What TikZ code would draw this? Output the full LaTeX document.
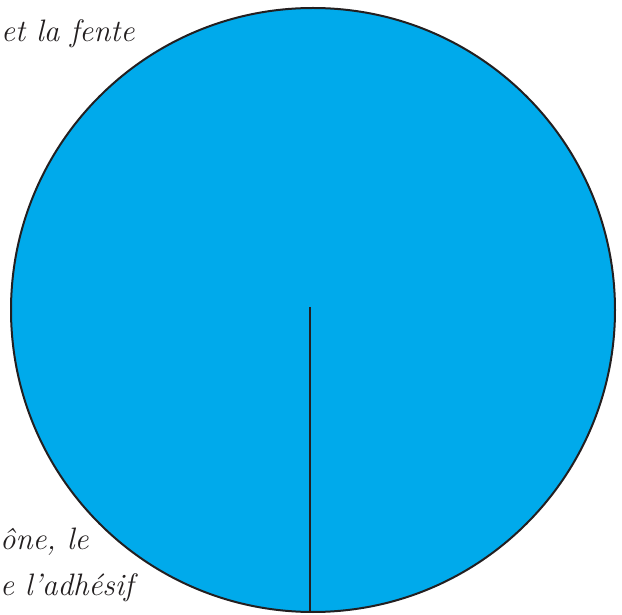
\documentclass[tikz,border=0pt]{standalone}
\usepackage{tikz}
\usetikzlibrary{positioning}
\definecolor{disccyan}{RGB}{0,170,235}
\definecolor{inkgrey}{RGB}{35,31,32}

\begin{document}
\begin{tikzpicture}[
  x=1pt, y=1pt,
  disc/.style={circle, draw=inkgrey, line width=2pt, fill=disccyan, minimum size=604pt, inner sep=0pt},
  cut/.style={draw=inkgrey, line width=2.4pt},
  hand/.style={font=\fontsize{31}{34}\selectfont\itshape, text=inkgrey, inner sep=0pt, anchor=base west},
]
  \useasboundingbox (0,0) rectangle (622,614);
  \node[disc] (disc) at (313,304) {};
  \coordinate (slitTop) at (310,307);
  \coordinate (slitEnd) at (310,2);
  \draw[cut] (slitTop) -- (slitEnd);
  \node[hand] (topText) at (1,572) {et la fente};
  \node[hand] (midText) at (0,64) {ône, le};
  \node[hand] (lowText) at (0,19) {e l'adhésif};
\end{tikzpicture}
\end{document}
